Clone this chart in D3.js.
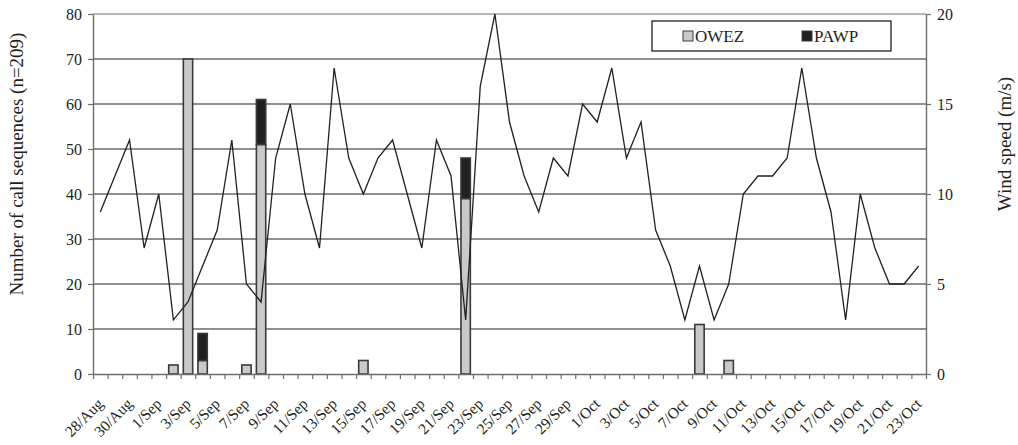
<!DOCTYPE html>
<html>
<head>
<meta charset="utf-8">
<script src="https://cdn.jsdelivr.net/npm/d3@7"></script>
<style>
  body { margin: 0; background: #fff; }
  svg text { font-family: "Liberation Serif", "Times New Roman", serif; fill: #231f20; }
</style>
</head>
<body>
<svg id="chart" width="1018" height="445"></svg>
<script>
// Daily categories, 28 August to 23 October
const dates = [
  "28/Aug","29/Aug","30/Aug","31/Aug",
  "1/Sep","2/Sep","3/Sep","4/Sep","5/Sep","6/Sep","7/Sep","8/Sep","9/Sep","10/Sep",
  "11/Sep","12/Sep","13/Sep","14/Sep","15/Sep","16/Sep","17/Sep","18/Sep","19/Sep","20/Sep",
  "21/Sep","22/Sep","23/Sep","24/Sep","25/Sep","26/Sep","27/Sep","28/Sep","29/Sep","30/Sep",
  "1/Oct","2/Oct","3/Oct","4/Oct","5/Oct","6/Oct","7/Oct","8/Oct","9/Oct","10/Oct",
  "11/Oct","12/Oct","13/Oct","14/Oct","15/Oct","16/Oct","17/Oct","18/Oct","19/Oct","20/Oct",
  "21/Oct","22/Oct","23/Oct"
];

// Number of call sequences per night at each site
const owez = [
  0, 0, 0, 0, 0, 2, 70, 3, 0, 0,
  2, 51, 0, 0, 0, 0, 0, 0, 3, 0,
  0, 0, 0, 0, 0, 39, 0, 0, 0, 0,
  0, 0, 0, 0, 0, 0, 0, 0, 0, 0,
  0, 11, 0, 3, 0, 0, 0, 0, 0, 0,
  0, 0, 0, 0, 0, 0, 0
];
const pawp = [
  0, 0, 0, 0, 0, 0, 0, 6, 0, 0,
  0, 10, 0, 0, 0, 0, 0, 0, 0, 0,
  0, 0, 0, 0, 0, 9, 0, 0, 0, 0,
  0, 0, 0, 0, 0, 0, 0, 0, 0, 0,
  0, 0, 0, 0, 0, 0, 0, 0, 0, 0,
  0, 0, 0, 0, 0, 0, 0
];

// Mean wind speed (m/s)
const windSpeed = [
  9, 11, 13, 7, 10, 3, 4, 6, 8, 13,
  5, 4, 12, 15, 10, 7, 17, 12, 10, 12,
  13, 10, 7, 13, 11, 3, 16, 20, 14, 11,
  9, 12, 11, 15, 14, 17, 12, 14, 8, 6,
  3, 6, 3, 5, 10, 11, 11, 12, 17, 12,
  9, 3, 10, 7, 5, 5, 6
];

const countTicks = [0, 10, 20, 30, 40, 50, 60, 70, 80];
const windTicks = [0, 5, 10, 15, 20];
const seriesNames = ["OWEZ", "PAWP"];
const seriesColors = ["#c8c9cb", "#231f20"];

const plotLeft = 93, plotRight = 926, plotTop = 14, plotBottom = 374;
const serif = "'Liberation Serif', 'Times New Roman', serif";
const svg = d3.select("#chart");

const x = d3.scaleBand().domain(dates).range([plotLeft, plotRight])
  .paddingInner(0.36).paddingOuter(0.18);
const xEdge = d3.scaleLinear().domain([0, dates.length]).range([plotLeft, plotRight]);
const yCount = d3.scaleLinear().domain([0, 80]).range([plotBottom, plotTop]);
const yWind = d3.scaleLinear().domain([0, 20]).range([plotBottom, plotTop]);

// Horizontal gridlines
svg.append("g").selectAll("line")
  .data(countTicks.filter(t => t > 0))
  .join("line")
  .attr("x1", plotLeft).attr("x2", plotRight)
  .attr("y1", d => yCount(d)).attr("y2", d => yCount(d))
  .attr("stroke", d => d === 80 ? "#6d6e70" : "#231f20")
  .attr("stroke-width", 1.1);

// Stacked bars
const rows = dates.map((d, i) => ({ date: d, OWEZ: owez[i], PAWP: pawp[i] }));
const stacked = d3.stack().keys(seriesNames)(rows);

svg.append("g").selectAll("g")
  .data(stacked)
  .join("g")
  .attr("fill", (d, i) => seriesColors[i])
  .selectAll("rect")
  .data(d => d.filter(s => s[1] - s[0] > 0))
  .join("rect")
  .attr("x", d => x(d.data.date))
  .attr("width", x.bandwidth())
  .attr("y", d => yCount(d[1]))
  .attr("height", d => yCount(d[0]) - yCount(d[1]))
  .attr("stroke", "#3a3a3c")
  .attr("stroke-width", 1.6);

// Axes
const axisColor = "#6d6e70";
const fmtAxis = g => {
  g.attr("font-family", serif);
  g.select(".domain").attr("stroke", axisColor).attr("stroke-width", 1.4);
  g.selectAll(".tick line").attr("stroke", axisColor).attr("stroke-width", 1.2);
  g.selectAll(".tick text").attr("fill", "#231f20");
};

svg.append("g")
  .attr("transform", `translate(${plotLeft},0)`)
  .call(d3.axisLeft(yCount).tickValues(countTicks).tickSize(5).tickPadding(6).tickSizeOuter(0))
  .call(fmtAxis)
  .selectAll(".tick text").style("font-size", "16px");

svg.append("g")
  .attr("transform", `translate(${plotRight},0)`)
  .call(d3.axisRight(yWind).tickValues(windTicks).tickSize(5).tickPadding(6).tickSizeOuter(0))
  .call(fmtAxis)
  .selectAll(".tick text").style("font-size", "16px");

// Category boundary ticks
svg.append("g")
  .attr("transform", `translate(0,${plotBottom})`)
  .call(d3.axisBottom(xEdge).tickValues(d3.range(dates.length + 1)).tickFormat("").tickSize(5).tickSizeOuter(0))
  .call(fmtAxis);

// Date labels on every other day
const labelAxis = svg.append("g")
  .attr("transform", `translate(0,${plotBottom})`)
  .call(d3.axisBottom(x).tickValues(dates.filter((d, i) => i % 2 === 0)).tickSize(0).tickPadding(0))
  .call(fmtAxis);
labelAxis.select(".domain").remove();
labelAxis.selectAll(".tick text")
  .attr("transform", "translate(0,27) rotate(-45)")
  .attr("text-anchor", "end")
  .attr("dy", "0.35em")
  .attr("y", 0)
  .style("font-size", "15.5px");

// Wind speed line
const line = d3.line()
  .x((d, i) => x(dates[i]) + x.bandwidth() / 2)
  .y(d => yWind(d));
svg.append("path")
  .datum(windSpeed)
  .attr("fill", "none")
  .attr("stroke", "#231f20")
  .attr("stroke-width", 1.3)
  .attr("stroke-linejoin", "miter")
  .attr("d", line);

// Axis titles
svg.append("text")
  .attr("transform", `translate(23,${(plotTop + plotBottom) / 2 - 30}) rotate(-90)`)
  .attr("text-anchor", "middle")
  .style("font-size", "19px")
  .text("Number of call sequences (n=209)");

svg.append("text")
  .attr("transform", `translate(1011,${(plotTop + plotBottom) / 2 - 50}) rotate(-90)`)
  .attr("text-anchor", "middle")
  .style("font-size", "19px")
  .text("Wind speed (m/s)");

// Legend
const legend = svg.append("g");
legend.append("rect")
  .attr("x", 652).attr("y", 21).attr("width", 239).attr("height", 30)
  .attr("fill", "#fff").attr("stroke", "#231f20").attr("stroke-width", 1.3);
const legendX = [683, 802];
const items = legend.selectAll("g.item")
  .data(seriesNames)
  .join("g")
  .attr("class", "item")
  .attr("transform", (d, i) => `translate(${legendX[i]},31)`);
items.append("rect")
  .attr("width", 10).attr("height", 10)
  .attr("fill", (d, i) => seriesColors[i])
  .attr("stroke", "#3a3a3c").attr("stroke-width", 1);
items.append("text")
  .attr("x", 12).attr("y", 10.5)
  .style("font-size", "17px")
  .text(d => d);
</script>
</body>
</html>
